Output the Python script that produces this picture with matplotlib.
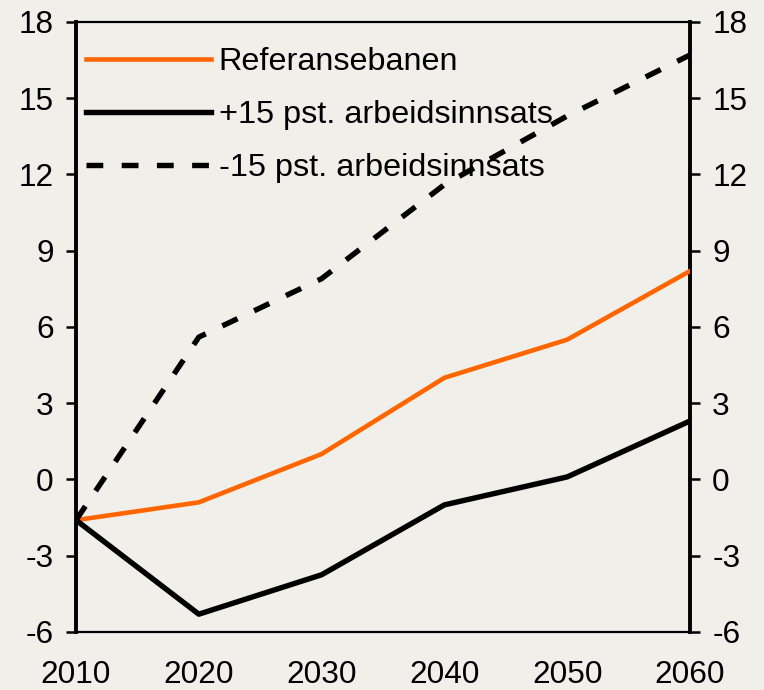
import matplotlib
matplotlib.use("Agg")
import matplotlib.pyplot as plt

plt.rcParams['font.family'] = ['Liberation Sans', 'DejaVu Sans']
plt.rcParams['axes.unicode_minus'] = False

# data
years = [2010, 2020, 2030, 2040, 2050, 2060]
referanse = [-1.6, -0.9, 1.0, 4.0, 5.5, 8.2]
pluss15 = [-1.6, -5.3, -3.75, -1.0, 0.1, 2.3]
minus15 = [-1.6, 5.6, 7.9, 11.6, 14.3, 16.7]
labels = ["Referansebanen", "+15 pst. arbeidsinnsats", "-15 pst. arbeidsinnsats"]
yticks = [-6, -3, 0, 3, 6, 9, 12, 15, 18]

bg = '#F0EFE9'
orange = '#FF6600'

fig = plt.figure(figsize=(7.64, 6.9), dpi=100, facecolor=bg)
ax = fig.add_axes([0.0995, 0.0841, 0.8036, 0.8841])
ax.set_facecolor(bg)

ax.plot(years, referanse, color=orange, lw=3.3, label=labels[0], zorder=3)
ax.plot(years, pluss15, color='black', lw=3.9, label=labels[1], zorder=3)
ax.plot(years, minus15, color='black', lw=3.9, dashes=(3.1, 3.4),
        dash_capstyle='butt', label=labels[2], zorder=3)

ax.set_xlim(2010, 2060)
ax.set_ylim(-6, 18)
ax.set_xticks(years)
ax.set_yticks(yticks)

for side in ['left', 'right']:
    ax.spines[side].set_linewidth(2.8)
for side in ['top', 'bottom']:
    ax.spines[side].set_linewidth(1.6)

ax.tick_params(axis='x', length=0, pad=20, labelsize=22.7)
ax.tick_params(axis='y', direction='out', length=7, width=1.8, pad=9,
               labelsize=22.7, right=True, labelright=True)

leg = ax.legend(loc='upper left', bbox_to_anchor=(0.0163, 0.959), frameon=False,
                fontsize=23.3, handlelength=3.85, handletextpad=0.25,
                labelspacing=0.71, borderaxespad=0, borderpad=0)
leg.set_zorder(1)

fig.savefig('out.png', dpi=100, facecolor=bg)
